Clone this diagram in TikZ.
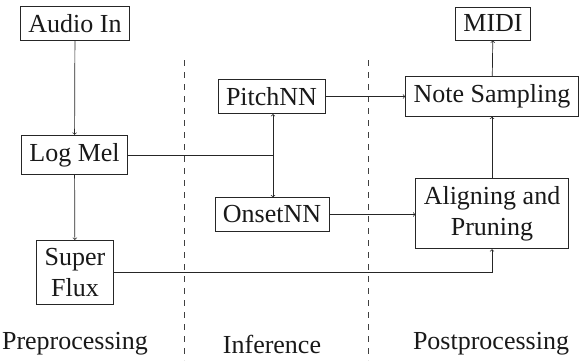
\documentclass[tikz,border=0pt]{standalone}
\usepackage{fontspec}
\setmainfont{Liberation Serif}
\begin{document}
\begin{tikzpicture}[x=1pt,y=-1pt,
  every node/.style={font=\fontsize{26}{31}\selectfont, text=black!90},
  block/.style={draw=black!85, line width=0.7pt, inner sep=8pt, align=center, fill=white},
  link/.style={draw=black!85, line width=0.7pt},
  arrow/.style={link, ->},
  divider/.style={draw=black!75, line width=0.7pt, dash pattern=on 6pt off 6pt}]
\useasboundingbox (0,0) rectangle (581,360);

% column dividers
\coordinate (d1top) at (184,60);
\coordinate (d1bot) at (184,360);
\coordinate (d2top) at (368,60);
\coordinate (d2bot) at (368,360);
\draw[divider] (d1top) -- (d1bot);
\draw[divider] (d2top) -- (d2bot);

% preprocessing
\node[block] (audio) at (75,23.5) {Audio In};
\node[block] (logmel) at (74.5,155) {Log Mel};
\node[block] (flux) at (75,272.5) {Super\\Flux};

% inference
\node[block] (pitch) at (271.5,96.5) {PitchNN};
\node[block] (onset) at (272,214.5) {OnsetNN};

% postprocessing
\node[block] (midi) at (493,23.5) {MIDI};
\node[block] (sampling) at (492,96.5) {Note Sampling};
\node[block] (align) at (492,213.5) {Aligning and\\Pruning};

% section labels
\node (pre) at (75,344) {Preprocessing};
\node (inf) at (272,344) {Inference};
\node (post) at (491,344) {Postprocessing};

% connectors
\coordinate (split) at (273,155);
\draw[arrow] (audio) -- (logmel);
\draw[arrow] (logmel) -- (flux);
\draw[link] (logmel.east) -- (split);
\draw[arrow] (split) -- (split |- pitch.south);
\draw[arrow] (split) -- (split |- onset.north);
\draw[arrow] (pitch.east) -- (pitch.east -| sampling.west);
\draw[arrow] (onset.east) -- (onset.east -| align.west);
\draw[arrow] (flux.east) -| (align.south);
\draw[arrow] (align) -- (sampling);
\draw[arrow] (sampling) -- (midi);
\end{tikzpicture}
\end{document}
